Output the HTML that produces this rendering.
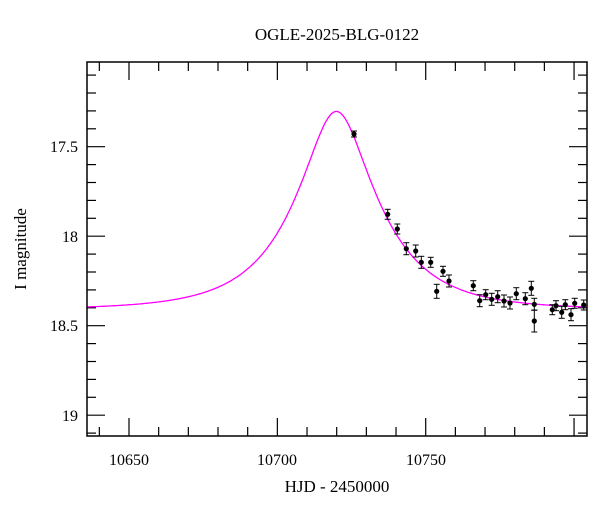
<!DOCTYPE html>
<html><head><meta charset="utf-8"><style>
html,body{margin:0;padding:0;background:#fff;}
svg{display:block;font-family:"Liberation Serif","DejaVu Serif",serif;}
</style></head><body>
<svg id="s" width="600" height="512" viewBox="0 0 600 512">
<rect width="600" height="512" fill="#fff"/>
<text x="337" y="40" font-size="17" text-anchor="middle">OGLE-2025-BLG-0122</text>
<g id="ticks" stroke="#000" stroke-width="1.2"></g>
<path id="curve" fill="none" stroke="#ff00ff" stroke-width="1.3"/>
<g id="pts"></g>
<rect x="87" y="62" width="500" height="374" fill="none" stroke="#000" stroke-width="1.5"/>
<g font-size="16" text-anchor="end">
<text x="78" y="152">17.5</text><text x="78" y="242">18</text><text x="78" y="331">18.5</text><text x="78" y="421">19</text>
</g>
<g font-size="16" text-anchor="middle">
<text x="129" y="465">10650</text><text x="277" y="465">10700</text><text x="426" y="465">10750</text>
<text x="337" y="492" font-size="17">HJD - 2450000</text>
</g>
<text transform="translate(26,249) rotate(-90)" font-size="17" text-anchor="middle">I magnitude</text>
</svg>
<script>
function X(t){return 129+(t-10650)*2.967;}
function Y(m){return 146.7+(m-17.5)*179;}
var tk=document.getElementById("ticks"),s="";
function ln(a,b,c,d){s+='<line x1="'+a+'" y1="'+b+'" x2="'+c+'" y2="'+d+'"/>';}
for(var t=10640;t<=10800;t+=10){var x=X(t),L=(t%50==0)?18:9;ln(x,436,x,436-L);ln(x,62,x,62+L);}
for(var i=0;i<=21;i++){var m=17.1+i*0.1;var y=Y(m);if(y<62||y>436)continue;var L=(Math.abs(m*2-Math.round(m*2))<0.01)?18:9;ln(87,y,87+L,y);ln(587,y,587-L,y);}
tk.innerHTML=s;
var d="";for(var t=10635.8;t<=10804.4;t+=0.4){var tau=(t-10719.9)/26.5,u=Math.sqrt(0.38*0.38+tau*tau);var A=(u*u+2)/(u*Math.sqrt(u*u+4));var m=18.41-2.5*Math.log10(A);d+=(d?"L":"M")+X(t).toFixed(1)+","+Y(m).toFixed(1);}
document.getElementById("curve").setAttribute("d",d);
var P=[[354,134,3],[387.7,214.3,5],[397.3,229,5],[406.3,248.7,6],[415.7,251,6],[421.3,262.3,6],[430.7,262.3,5],[436.7,291.3,7],[443,271.3,5],[449,281,6],[473.3,285.7,5],[479.7,300.7,6],[485.7,294.7,5],[491.7,299.3,6],[497.7,296.7,6],[504,301,6],[510,303,6],[516.3,293.7,6],[525.3,298.7,6],[531.3,288.3,7],[534.3,304.3,6],[534.3,321,11],[552.3,309.7,5],[556,305.7,5],[561.7,312.3,6],[565.3,304.7,5],[571,314.7,6],[574.7,303.3,5],[583.7,305,5]];
var g="";P.forEach(function(p){var x=p[0],y=p[1],e=p[2];g+='<line x1="'+x+'" y1="'+(y-e)+'" x2="'+x+'" y2="'+(y+e)+'" stroke="#000" stroke-width="1"/><line x1="'+(x-3)+'" y1="'+(y-e)+'" x2="'+(x+3)+'" y2="'+(y-e)+'" stroke="#000"/><line x1="'+(x-3)+'" y1="'+(y+e)+'" x2="'+(x+3)+'" y2="'+(y+e)+'" stroke="#000"/><circle cx="'+x+'" cy="'+y+'" r="2.6" fill="#000"/>';});
document.getElementById("pts").innerHTML=g;
</script>
</body></html>
